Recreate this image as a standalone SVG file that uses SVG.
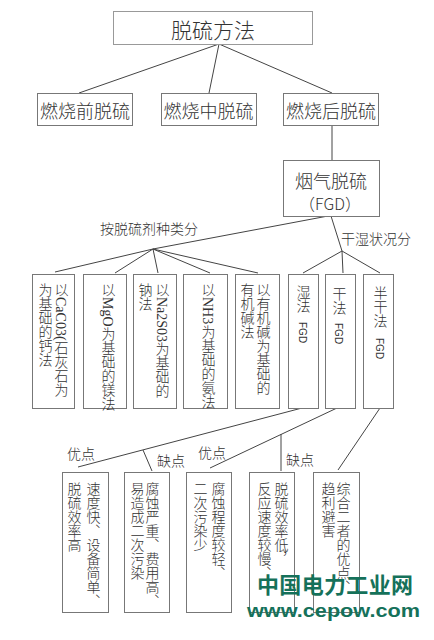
<svg xmlns="http://www.w3.org/2000/svg" width="434" height="640" viewBox="0 0 434 640">
<style>
.box{fill:#fff;stroke:#777;stroke-width:1}
.ln{stroke:#444;stroke-width:1;fill:none}
.t{font-family:"Noto Sans CJK SC","Liberation Serif",sans-serif;font-weight:300;fill:#333;text-anchor:middle;dominant-baseline:central}
.v{font-family:"Liberation Serif","Noto Sans CJK SC",serif;font-weight:300;fill:#333;font-size:14px;writing-mode:vertical-rl}
.f{font-family:"Liberation Sans",sans-serif;fill:#333;font-size:10px;writing-mode:vertical-rl}
.lb{font-family:"Noto Sans CJK SC",sans-serif;font-weight:300;fill:#333;font-size:14px}
.wm{font-family:"Noto Sans CJK SC","Liberation Sans",sans-serif;fill:#15715a;font-weight:bold}
</style>
<rect width="434" height="640" fill="#fff"/>
<g id="connectors">
<line class="ln" x1="219" y1="44" x2="79" y2="93"/>
<line class="ln" x1="219" y1="44" x2="209" y2="93"/>
<line class="ln" x1="219" y1="44" x2="332" y2="93"/>
<line class="ln" x1="332" y1="125" x2="332" y2="160"/>
<line class="ln" x1="328" y1="216" x2="153" y2="249"/>
<line class="ln" x1="153" y1="249" x2="55" y2="272"/>
<line class="ln" x1="153" y1="249" x2="115" y2="273"/>
<line class="ln" x1="153" y1="249" x2="158" y2="273"/>
<line class="ln" x1="153" y1="249" x2="210" y2="273"/>
<line class="ln" x1="153" y1="249" x2="258" y2="273"/>
<line class="ln" x1="331" y1="216" x2="342" y2="251"/>
<line class="ln" x1="342" y1="251" x2="303" y2="273"/>
<line class="ln" x1="342" y1="251" x2="343" y2="273"/>
<line class="ln" x1="342" y1="251" x2="380" y2="273"/>
<line class="ln" x1="302" y1="408" x2="78" y2="467"/>
<line class="ln" x1="143" y1="450" x2="152" y2="471"/>
<line class="ln" x1="337" y1="408" x2="210" y2="468"/>
<line class="ln" x1="281" y1="434" x2="281" y2="471"/>
<line class="ln" x1="380" y1="408" x2="338" y2="470"/>
<text class="lb" x="100" y="234">按脱硫剂种类分</text>
<text class="lb" x="341" y="244">干湿状况分</text>
<text class="lb" x="67" y="459">优点</text>
<text class="lb" x="157" y="466">缺点</text>
<text class="lb" x="198" y="458">优点</text>
<text class="lb" x="286" y="465">缺点</text>
</g>
<g id="n-root"><rect class="box" x="113.5" y="11.5" width="199" height="33" style="stroke:#999"/><text class="t" x="213" y="28.5" font-size="21">脱硫方法</text></g>
<g id="n-pre"><rect class="box" x="37.5" y="93.5" width="95" height="32"/><text class="t" x="85" y="109.5" font-size="18">燃烧前脱硫</text></g>
<g id="n-mid"><rect class="box" x="161.5" y="93.5" width="95" height="32"/><text class="t" x="208.5" y="109.5" font-size="18">燃烧中脱硫</text></g>
<g id="n-post"><rect class="box" x="283.5" y="93.5" width="95" height="32"/><text class="t" x="331" y="109.5" font-size="18">燃烧后脱硫</text></g>
<g id="n-fgd"><rect class="box" x="283.5" y="160.5" width="96" height="56"/><text class="t" x="331" y="180" font-size="18">烟气脱硫</text><text class="t" x="330" y="203" font-size="16">（FGD）</text></g>
<g id="n-ca"><rect class="box" x="32.5" y="274.5" width="42" height="134"/><text class="v" x="60" y="283">以CaC03(石灰石为</text><text class="v" x="44" y="283">为基础的钙法</text></g>
<g id="n-mg"><rect class="box" x="83.5" y="274.5" width="43" height="134"/><text class="v" x="107" y="283">以MgO为基础的镁法</text></g>
<g id="n-na"><rect class="box" x="133.5" y="274.5" width="43" height="134"/><text class="v" x="161" y="283">以Na2S03为基础的</text><text class="v" x="144" y="283">钠法</text></g>
<g id="n-nh"><rect class="box" x="183.5" y="274.5" width="44" height="134"/><text class="v" x="207" y="283">以NH3为基础的氨法</text></g>
<g id="n-org"><rect class="box" x="235.5" y="274.5" width="44" height="134"/><text class="v" x="262" y="283">以有机碱为基础的</text><text class="v" x="246" y="283">有机碱法</text></g>
<g id="n-wet"><rect class="box" x="288.5" y="274.5" width="30" height="134"/><text class="v" x="302" y="285">湿法</text><text class="f" x="302" y="322">FGD</text></g>
<g id="n-dry"><rect class="box" x="325.5" y="274.5" width="30" height="134"/><text class="v" x="338" y="287">干法</text><text class="f" x="338" y="323">FGD</text></g>
<g id="n-semi"><rect class="box" x="363.5" y="274.5" width="30" height="134"/><text class="v" x="379" y="286">半干法</text><text class="f" x="379" y="338">FGD</text></g>
<g id="n-b1"><rect class="box" x="62.5" y="472.5" width="46" height="140"/><text class="v" x="92" y="482">速度快、设备简单、</text><text class="v" x="73" y="482">脱硫效率高</text></g>
<g id="n-b2"><rect class="box" x="124.5" y="472.5" width="45" height="140"/><text class="v" x="151" y="482">腐蚀严重、费用高、</text><text class="v" x="136" y="482">易造成二次污染</text></g>
<g id="n-b3"><rect class="box" x="186.5" y="472.5" width="45" height="140"/><text class="v" x="217" y="482">腐蚀程度较轻、</text><text class="v" x="199" y="482">二次污染少</text></g>
<g id="n-b4"><rect class="box" x="249.5" y="472.5" width="45" height="140"/><text class="v" x="280" y="482">脱硫效率低，</text><text class="v" x="263" y="482">反应速度较慢、</text></g>
<g id="n-b5"><rect class="box" x="313.5" y="472.5" width="46" height="140"/><text class="v" x="342" y="482">综合二者的优点、</text><text class="v" x="327" y="482">趋利避害</text></g>
<g id="watermark">
<text class="wm" x="257" y="593" font-size="22" textLength="156" lengthAdjust="spacing">中国电力工业网</text>
<text class="wm" x="247" y="617" font-size="18" textLength="173" lengthAdjust="spacingAndGlyphs" style="font-family:'Liberation Sans',sans-serif">www.cepow.com</text>
</g>
</svg>
